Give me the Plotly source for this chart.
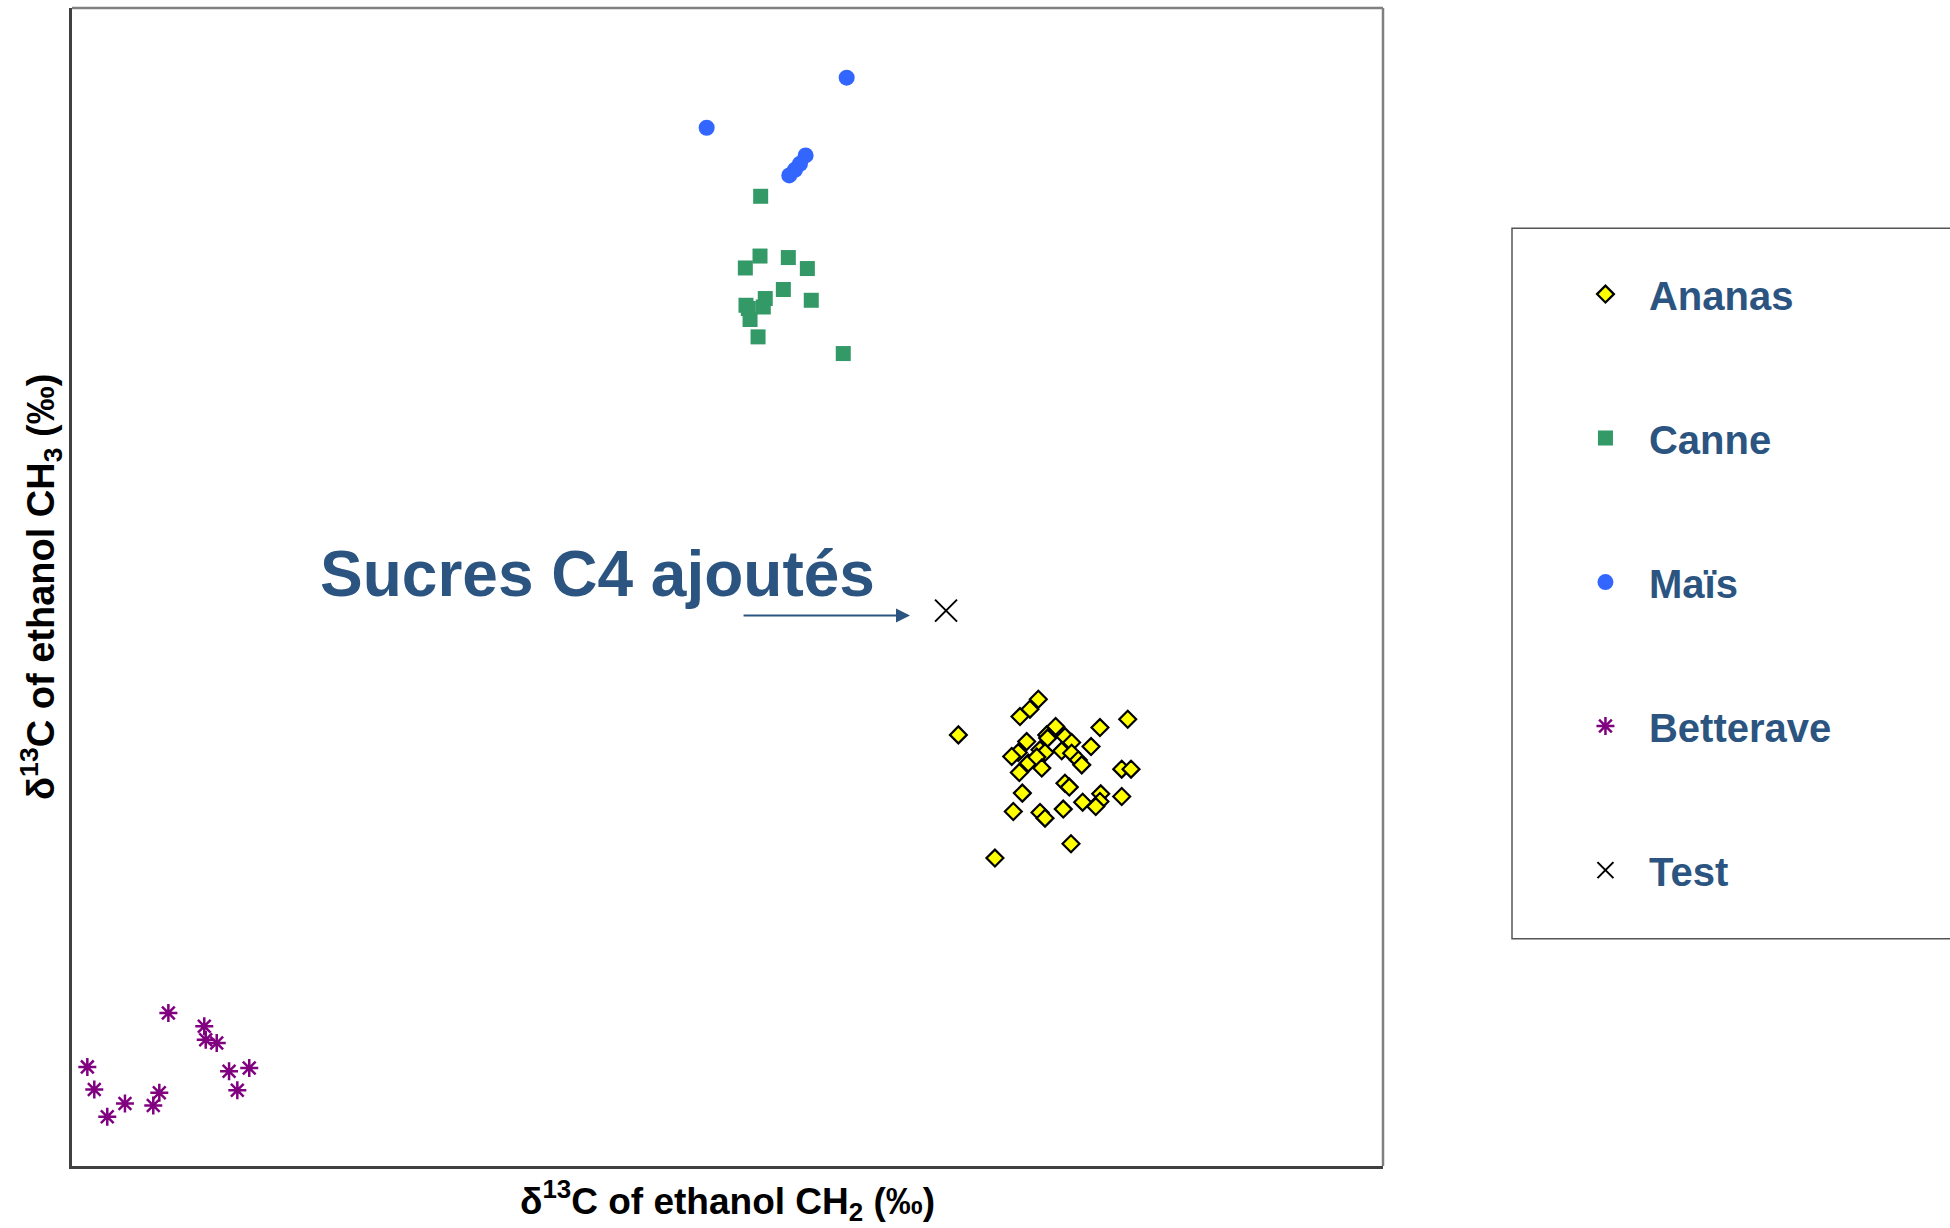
import plotly.graph_objects as go

# ---- data (arbitrary units, axes have no ticks) ----
ananas_x = [67.61, 73.71, 73.07, 72.31, 75.03, 74.35, 74.42, 72.82, 75.74, 76.25,
            78.41, 80.53, 77.73, 73.84, 74.22, 72.18, 71.68, 75.49, 76.25, 72.94,
            73.59, 76.76, 77.02, 72.26, 73.97, 80.07, 80.78, 75.74, 76.07, 72.49,
            78.47, 80.07, 77.09, 78.41, 78.09, 71.80, 73.84, 74.22, 75.61, 76.20, 70.40]
ananas_y = [37.23, 40.31, 39.45, 38.81, 37.95, 37.23, 36.95, 36.65, 37.08, 36.57,
            37.86, 38.58, 36.22, 35.94, 35.70, 35.70, 35.36, 35.85, 35.65, 34.79,
            35.31, 35.07, 34.64, 33.98, 34.36, 34.27, 34.27, 33.06, 32.72, 32.20,
            32.14, 31.91, 31.42, 31.48, 31.04, 30.61, 30.53, 30.04, 30.82, 27.83, 26.59]

canne_x = [52.53, 52.48, 51.36, 54.64, 56.09, 54.26, 52.88, 51.41, 52.73, 51.59,
           51.72, 52.33, 56.39, 58.83]
canne_y = [83.74, 78.58, 77.55, 78.45, 77.50, 75.69, 74.91, 74.33, 74.18, 74.05,
           73.10, 71.60, 74.76, 70.16]

mais_x = [59.09, 48.41, 55.96, 55.53, 55.15, 54.71]
mais_y = [93.98, 89.66, 87.27, 86.55, 86.03, 85.54]

betterave_x = [7.35, 10.09, 10.20, 11.04, 1.17, 1.70, 2.69, 4.04, 6.66, 6.20, 11.98, 13.52, 12.61]
betterave_y = [13.22, 12.06, 10.91, 10.63, 8.56, 6.60, 4.25, 5.39, 6.32, 5.22, 8.18, 8.47, 6.54]

test_x = [66.67]
test_y = [47.96]

series_names = ["Ananas", "Canne", "Maïs", "Betterave", "Test"]
annotation_text = "Sucres C4 ajoutés"
arrow_from = (51.11, 47.54)
arrow_to = (63.92, 47.54)

x_title = "δ<sup>13</sup>C of ethanol CH<sub>2</sub> (‰)"
y_title = "δ<sup>13</sup>C of ethanol CH<sub>3</sub> (‰)"

FONT = "Liberation Sans, Arial, sans-serif"
BLUE_TEXT = "#2B5580"

fig = go.Figure()

fig.add_trace(go.Scatter(
    x=ananas_x, y=ananas_y, mode="markers", name=series_names[0], legendgroup="a",
    marker=dict(symbol="diamond", size=13, color="#FFFF00",
                line=dict(color="#000000", width=2.2))))
fig.add_trace(go.Scatter(
    x=canne_x, y=canne_y, mode="markers", name=series_names[1], legendgroup="b",
    marker=dict(symbol="square", size=15, color="#339966",
                line=dict(color="#339966", width=0))))
fig.add_trace(go.Scatter(
    x=mais_x, y=mais_y, mode="markers", name=series_names[2], legendgroup="c",
    marker=dict(symbol="circle", size=16, color="#3366FF",
                line=dict(color="#3366FF", width=0))))
fig.add_trace(go.Scatter(
    x=betterave_x, y=betterave_y, mode="markers", name=series_names[3], legendgroup="d",
    marker=dict(symbol="asterisk-open", size=15, color="#800080",
                line=dict(color="#800080", width=2.5))))
fig.add_trace(go.Scatter(
    x=test_x, y=test_y, mode="markers", name=series_names[4], legendgroup="e",
    marker=dict(symbol="x-thin-open", size=22, color="#000000",
                line=dict(color="#000000", width=2))))

annotations = [
    dict(x=40.05, y=51.13, xref="x", yref="y", text=annotation_text, showarrow=False,
         xanchor="center", yanchor="middle",
         font=dict(family=FONT, size=64, color=BLUE_TEXT, weight="bold")),
    dict(x=arrow_to[0], y=arrow_to[1], ax=arrow_from[0], ay=arrow_from[1],
         xref="x", yref="y", axref="x", ayref="y", text="", showarrow=True,
         arrowhead=2, arrowsize=1.4, arrowwidth=2, arrowcolor=BLUE_TEXT),
    dict(x=0.5, y=-0.0300, xref="paper", yref="paper", text=x_title, showarrow=False,
         xanchor="center", yanchor="middle",
         font=dict(family=FONT, size=37, color="#000000", weight="bold")),
    dict(x=-0.0237, y=0.5, xref="paper", yref="paper", text=y_title, showarrow=False,
         xanchor="center", yanchor="middle", textangle=-90,
         font=dict(family=FONT, size=38, color="#000000", weight="bold")),
]

shapes = [
    # top and right frame lines (lighter grey)
    dict(type="line", xref="paper", yref="paper", x0=0, x1=1, y0=1, y1=1,
         line=dict(color="#808080", width=2.5)),
    dict(type="line", xref="paper", yref="paper", x0=1, x1=1, y0=0, y1=1,
         line=dict(color="#808080", width=2.5)),
    # legend frame (extends beyond the page on the right)
    dict(type="rect", xref="paper", yref="paper", x0=1.0984, x1=1.44, y0=0.1963, y1=0.8098,
         line=dict(color="#555555", width=1.5), fillcolor="rgba(0,0,0,0)"),
]

fig.update_layout(
    width=1950, height=1228,
    margin=dict(l=72, r=567, t=8, b=62),
    paper_bgcolor="white", plot_bgcolor="white",
    font=dict(family=FONT),
    xaxis=dict(range=[0, 100], showgrid=False, zeroline=False, showticklabels=False,
               ticks="", showline=True, linecolor="#404040", linewidth=2.5),
    yaxis=dict(range=[0, 100], showgrid=False, zeroline=False, showticklabels=False,
               ticks="", showline=True, linecolor="#404040", linewidth=2.5),
    showlegend=True,
    legend=dict(x=1.1365, y=0.781, xanchor="left", yanchor="top",
                font=dict(family=FONT, size=40, color=BLUE_TEXT, weight="bold"),
                bgcolor="rgba(0,0,0,0)", borderwidth=0, tracegroupgap=89,
                itemwidth=77),
    annotations=annotations,
    shapes=shapes,
)

fig.write_html("out.html")
